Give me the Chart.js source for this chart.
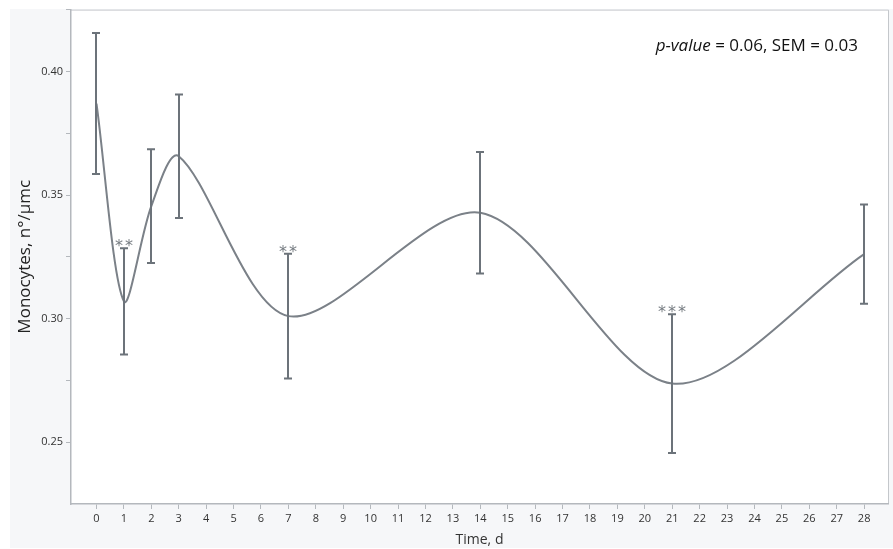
<!DOCTYPE html>
<html>
<head>
<meta charset="utf-8">
<script src="https://cdn.jsdelivr.net/npm/chart.js@4.4.1/dist/chart.umd.min.js"></script>
<style>
  html, body { margin: 0; padding: 0; background: #fff; }
  #wrap { width: 893px; height: 549px; position: relative; }
</style>
</head>
<body>
<div id="wrap"><canvas id="chart" width="893" height="549"></canvas></div>
<script>
const days = [0, 1, 2, 3, 7, 14, 21, 28];
const means = [0.387, 0.307, 0.3455, 0.3657, 0.301, 0.3428, 0.2737, 0.3261];
const sem = [0.0285, 0.0215, 0.023, 0.025, 0.0252, 0.0246, 0.0281, 0.0201];
const stars = ["", "**", "", "", "**", "", "***", ""];
const xTicks = Array.from({ length: 29 }, (_, i) => i);
const yLabels = [0.25, 0.30, 0.35, 0.40];
const note = { italic: "p-value", rest: " = 0.06, SEM = 0.03" };

const lineColor = "#7b8188";
const barColor = "#6c737a";
const axisColor = "#b4b8bd";

const ctx = document.getElementById("chart").getContext("2d");

const background = {
    id: "background",
    beforeDraw(chart) {
        const c = chart.ctx;
        const a = chart.chartArea;
        c.save();
        c.fillStyle = "#f6f7f9";
        c.fillRect(10, 9, chart.width - 10, chart.height - 10);
        c.fillStyle = "#ffffff";
        c.fillRect(a.left, a.top, a.right - a.left, a.bottom - a.top);
        c.strokeStyle = "#c4c7cb";
        c.lineWidth = 1;
        c.beginPath();
        c.moveTo(a.left, a.top + 0.5);
        c.lineTo(a.right + 0.5, a.top + 0.5);
        c.lineTo(a.right + 0.5, a.bottom);
        c.stroke();
        c.restore();
    }
};

const errorBars = {
    id: "errorBars",
    afterDatasetsDraw(chart) {
        const c = chart.ctx;
        const x = chart.scales.x;
        const y = chart.scales.y;
        c.save();
        c.strokeStyle = barColor;
        c.lineWidth = 2;
        days.forEach((d, i) => {
            const px = Math.round(x.getPixelForValue(d));
            const top = y.getPixelForValue(means[i] + sem[i]);
            const bot = y.getPixelForValue(means[i] - sem[i]);
            c.beginPath();
            c.moveTo(px, top);
            c.lineTo(px, bot);
            c.moveTo(px - 4, top);
            c.lineTo(px + 4, top);
            c.moveTo(px - 4, bot);
            c.lineTo(px + 4, bot);
            c.stroke();
            if (stars[i]) {
                // asterisks spaced out above the cap
                c.fillStyle = "#767c82";
                c.font = "16px 'DejaVu Sans'";
                c.textAlign = "center";
                c.textBaseline = "alphabetic";
                const n = stars[i].length;
                const gap = 10;
                for (let k = 0; k < n; k++) {
                    const sx = px + (k - (n - 1) / 2) * gap;
                    c.fillText("*", sx, top + 3);
                }
            }
        });
        // annotation text
        const right = 858;
        const ty = 51;
        c.fillStyle = "#111";
        c.textBaseline = "alphabetic";
        c.textAlign = "left";
        c.font = "17px 'Open Sans'";
        const wRest = c.measureText(note.rest).width;
        c.font = "italic 17px 'Open Sans'";
        const wIt = c.measureText(note.italic).width;
        const start = right - wRest - wIt;
        c.fillText(note.italic, start, ty);
        c.font = "17px 'Open Sans'";
        c.fillText(note.rest, start + wIt, ty);
        c.restore();
    }
};

new Chart(ctx, {
    type: "line",
    data: {
        datasets: [{
            data: days.map((d, i) => ({ x: d, y: means[i] })),
            borderColor: lineColor,
            borderWidth: 2,
            pointRadius: 0,
            tension: 0.3,
            fill: false
        }]
    },
    options: {
        responsive: false,
        animation: false,
        layout: { padding: { top: 9, right: 5, bottom: 1, left: 0 } },
        plugins: { legend: { display: false }, tooltip: { enabled: false } },
        scales: {
            x: {
                type: "linear",
                min: -0.93,
                max: 28.87,
                afterFit: s => { s.height = 44; },
                afterBuildTicks: s => { s.ticks = xTicks.map(v => ({ value: v })); },
                grid: { drawOnChartArea: false, color: axisColor, tickLength: 5 },
                border: { color: axisColor, width: 1.5 },
                ticks: {
                    color: "#333",
                    padding: 3,
                    maxRotation: 0,
                    autoSkip: false,
                    font: { family: "'Open Sans'", size: 11 },
                    callback: v => String(v)
                },
                title: {
                    display: true,
                    text: "Time, d",
                    color: "#333",
                    padding: { top: 0, bottom: 0 },
                    font: { family: "'Open Sans'", size: 14 }
                }
            },
            y: {
                min: 0.225,
                max: 0.425,
                afterFit: s => { s.width = 71; },
                afterBuildTicks: s => {
                    const t = [];
                    for (let v = 0.25; v <= 0.4251; v += 0.025) t.push({ value: Math.round(v * 1000) / 1000 });
                    s.ticks = t;
                },
                grid: { drawOnChartArea: false, color: axisColor, tickLength: 5 },
                border: { color: axisColor, width: 1.5 },
                ticks: {
                    color: "#333",
                    padding: 3,
                    font: { family: "'Open Sans'", size: 11 },
                    callback: v => {
                        const hit = yLabels.find(l => Math.abs(l - v) < 1e-6);
                        return hit !== undefined ? hit.toFixed(2) : "";
                    }
                },
                title: {
                    display: true,
                    text: "Monocytes, n°/µmc",
                    color: "#222",
                    padding: { top: 15, bottom: 0 },
                    font: { family: "'Open Sans'", size: 17 }
                }
            }
        }
    },
    plugins: [background, errorBars]
});
</script>
</body>
</html>
